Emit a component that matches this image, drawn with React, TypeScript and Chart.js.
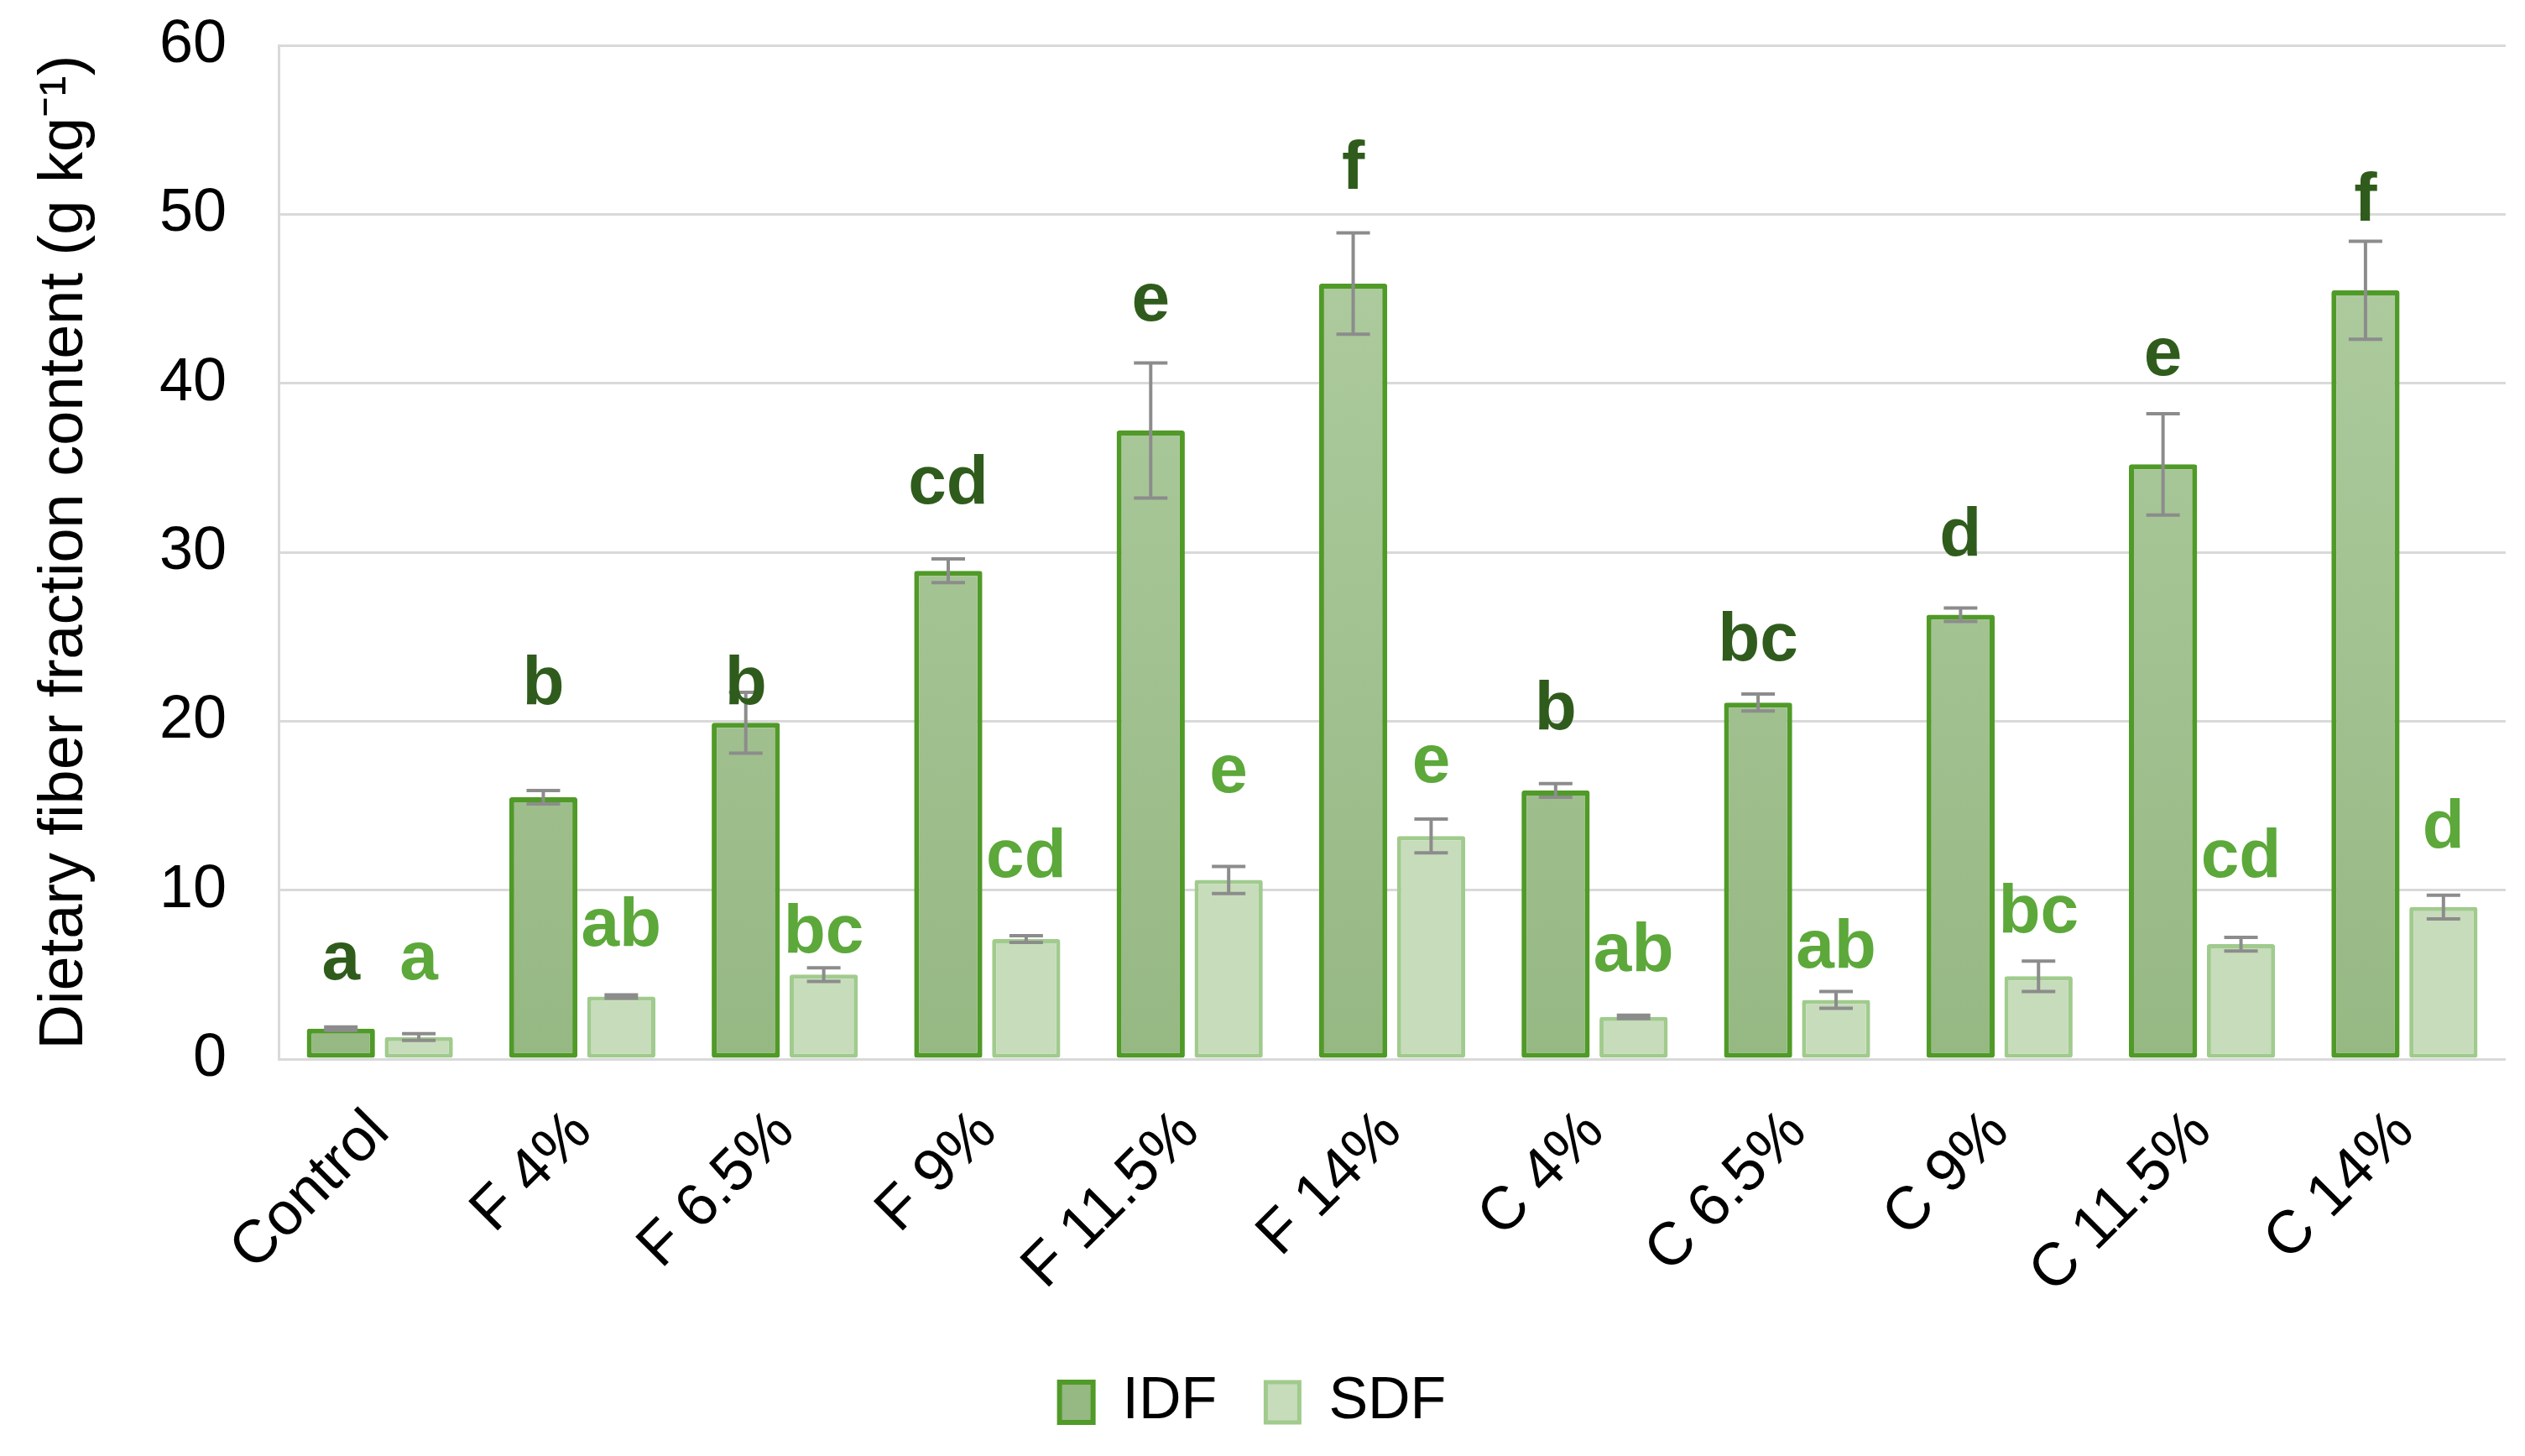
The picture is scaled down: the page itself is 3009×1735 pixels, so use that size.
import React, { useEffect, useRef } from "react";
import { Chart, registerables } from "chart.js";

Chart.register(...registerables);

const categories = ["Control", "F 4%", "F 6.5%", "F 9%", "F 11.5%", "F 14%", "C 4%", "C 6.5%", "C 9%", "C 11.5%", "C 14%"];
const idfValues = [1.8, 15.5, 19.9, 28.9, 37.2, 45.9, 15.9, 21.1, 26.3, 35.2, 45.5];
const idfErrors = [0.1, 0.4, 1.8, 0.7, 4.0, 3.0, 0.4, 0.5, 0.4, 3.0, 2.9];
const sdfValues = [1.3, 3.7, 5.0, 7.1, 10.6, 13.2, 2.5, 3.5, 4.9, 6.8, 9.0];
const sdfErrors = [0.2, 0.1, 0.4, 0.2, 0.8, 1.0, 0.1, 0.5, 0.9, 0.4, 0.7];
const idfLetters = ["a", "b", "b", "cd", "e", "f", "b", "bc", "d", "e", "f"];
const sdfLetters = ["a", "ab", "bc", "cd", "e", "e", "ab", "ab", "bc", "cd", "d"];
// letter baselines, in axis units
const idfLetterAt = [4.7, 21.0, 21.0, 32.9, 43.7, 51.5, 19.5, 23.6, 29.8, 40.5, 49.6];
const sdfLetterAt = [4.7, 6.7, 6.3, 10.8, 15.8, 16.4, 5.2, 5.4, 7.5, 10.8, 12.5];
const yTicks = [0, 10, 20, 30, 40, 50, 60];

const overlayPlugin = {
  id: "overlay",
  afterDatasetsDraw(chart: any) {
    const ctx = chart.ctx;
    const y = chart.scales.y;
    const sets: any[] = [
      [idfValues, idfErrors, idfLetters, idfLetterAt, "#2f5c1c"],
      [sdfValues, sdfErrors, sdfLetters, sdfLetterAt, "#5ca83a"],
    ];
    sets.forEach(([vals, errs, letters, at, color], di) => {
      const meta = chart.getDatasetMeta(di);
      meta.data.forEach((bar: any, i: number) => {
        const x = bar.x;
        const yt = y.getPixelForValue(vals[i] + errs[i]);
        const yb = y.getPixelForValue(vals[i] - errs[i]);
        ctx.save();
        ctx.strokeStyle = "#8c8c8c";
        ctx.lineWidth = 4;
        ctx.beginPath();
        ctx.moveTo(x, yt);
        ctx.lineTo(x, yb);
        ctx.moveTo(x - 20, yt);
        ctx.lineTo(x + 20, yt);
        ctx.moveTo(x - 20, yb);
        ctx.lineTo(x + 20, yb);
        ctx.stroke();
        ctx.font = 'bold 82px "Liberation Sans Narrow", "Liberation Sans", sans-serif';
        ctx.fillStyle = color;
        ctx.textAlign = "center";
        ctx.textBaseline = "alphabetic";
        ctx.fillText(letters[i], x, y.getPixelForValue(at[i]));
        ctx.restore();
      });
    });
  },
};

export default function App() {
  const canvasRef = useRef<HTMLCanvasElement | null>(null);

  useEffect(() => {
    if (!canvasRef.current) return;
    const idfFill = (c: any) => {
      const chart = c.chart;
      const area = chart.chartArea;
      if (!area) return "#a4c493";
      const g = chart.ctx.createLinearGradient(0, area.top, 0, area.bottom);
      g.addColorStop(0, "#b3d0a5");
      g.addColorStop(1, "#96b883");
      return g;
    };
    const chart = new Chart(canvasRef.current, {
      type: "bar",
      data: {
        labels: categories,
        datasets: [
          {
            label: "IDF",
            data: idfValues,
            backgroundColor: idfFill,
            borderColor: "#509a28",
            borderWidth: 6,
            borderSkipped: false,
            borderRadius: 3,
            categoryPercentage: 0.77,
            barPercentage: 0.875,
          },
          {
            label: "SDF",
            data: sdfValues,
            backgroundColor: "#c7dcbb",
            borderColor: "#a0cb8d",
            borderWidth: 5,
            borderSkipped: false,
            borderRadius: 3,
            categoryPercentage: 0.77,
            barPercentage: 0.875,
          },
        ],
      },
      options: {
        responsive: true,
        maintainAspectRatio: false,
        animation: false,
        devicePixelRatio: 1,
        layout: { padding: { top: 54, right: 23, bottom: 19, left: 0 } },
        plugins: {
          tooltip: { enabled: false },
          legend: {
            position: "bottom",
            labels: {
              color: "#000",
              font: { family: '"Liberation Sans", Arial, sans-serif', size: 70 },
              boxWidth: 40,
              boxHeight: 48,
              padding: 58,
            },
          },
        },
        scales: {
          x: {
            grid: { display: false },
            border: { display: false },
            ticks: {
              color: "#000",
              font: { family: '"Liberation Sans", Arial, sans-serif', size: 72 },
              maxRotation: 45,
              minRotation: 45,
              padding: 37,
            },
            afterFit: (s: any) => {
              s.height = 316;
            },
          },
          y: {
            min: 0,
            max: 60,
            afterBuildTicks: (s: any) => {
              s.ticks = yTicks.map((v) => ({ value: v }));
            },
            ticks: {
              color: "#000",
              font: { family: '"Liberation Sans", Arial, sans-serif', size: 72 },
              padding: 62,
            },
            grid: { color: "#d9d9d9", lineWidth: 3, drawTicks: false },
            border: { display: true, color: "#d9d9d9", width: 3 },
            title: {
              display: true,
              text: "Dietary fiber fraction content (g kg\u207B\u00B9)",
              color: "#000",
              font: { family: '"Liberation Sans", Arial, sans-serif', size: 74 },
              padding: { top: 33, bottom: 0 },
            },
            afterFit: (s: any) => {
              s.width = 332;
              s.paddingTop = 0;
              s.paddingBottom = 0;
            },
          },
        },
      },
      plugins: [overlayPlugin],
    });
    return () => chart.destroy();
  }, []);

  return (
    <div style={{ position: "absolute", left: 0, top: 0, width: 3009, height: 1735 }}>
      <canvas ref={canvasRef} />
    </div>
  );
}
